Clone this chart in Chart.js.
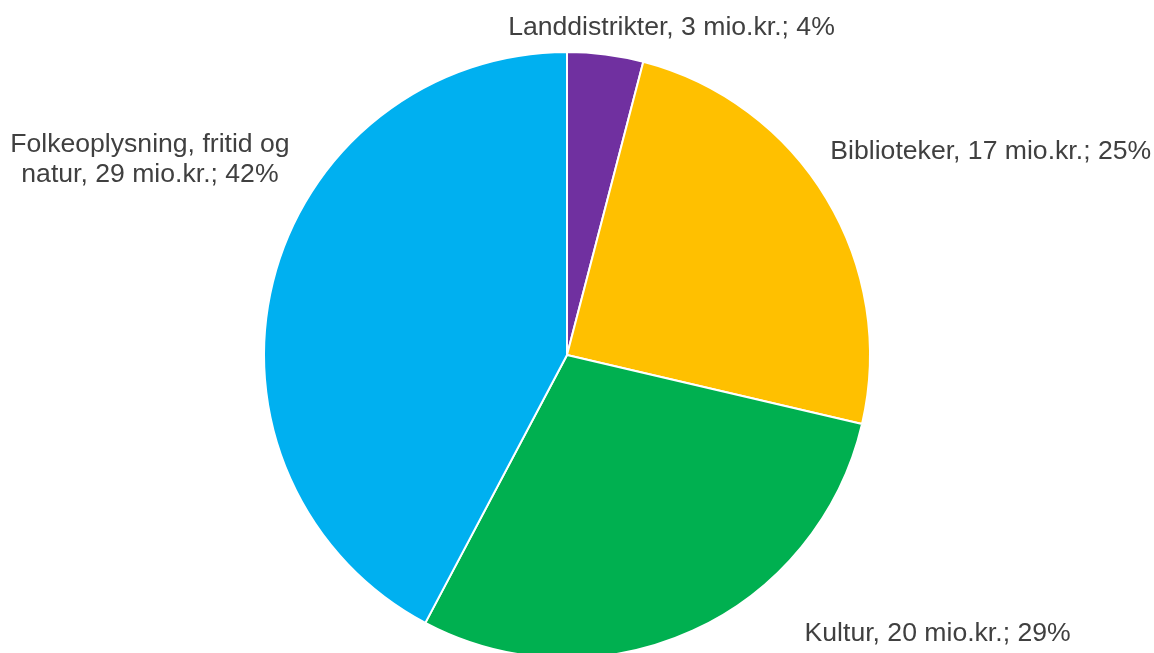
<!DOCTYPE html>
<html lang="da">
<head>
<meta charset="UTF-8">
<title>Fordeling af midler</title>
<script src="https://cdn.jsdelivr.net/npm/chart.js@4.4.1/dist/chart.umd.min.js"></script>
<style>
  html, body { margin: 0; padding: 0; background: #fff; overflow: hidden; }
  #wrap { width: 1154px; height: 653px; position: relative; }
</style>
</head>
<body>
<div id="wrap"><canvas id="chart" width="1154" height="653"></canvas></div>
<script>
// data (slice sizes from the drawn angles)
const categories = ['Landdistrikter', 'Biblioteker', 'Kultur', 'Folkeoplysning, fritid og natur'];
const values = [2.8, 17, 20.1, 29.2];
const amountLabels = ['3 mio.kr.', '17 mio.kr.', '20 mio.kr.', '29 mio.kr.'];
const percentLabels = ['4%', '25%', '29%', '42%'];
const labelLines = [
  ['Landdistrikter, 3 mio.kr.; 4%'],
  ['Biblioteker, 17 mio.kr.; 25%'],
  ['Kultur, 20 mio.kr.; 29%'],
  ['Folkeoplysning, fritid og', 'natur, 29 mio.kr.; 42%'],
];
const colors = ['#7030A0', '#FFC000', '#00B050', '#00B0F0'];

// label placement: nudge from slice's mid-angle point on the rim, and text alignment
const labelPlacement = [
  { dx: 66, dy: -27, align: 'center' },
  { dx: 4, dy: -47, align: 'left' },
  { dx: 112, dy: 3, align: 'left' },
  { dx: -123, dy: -122, align: 'center' },
];

const outsideLabels = {
  id: 'outsideLabels',
  afterDraw(chart) {
    const ctx = chart.ctx;
    const meta = chart.getDatasetMeta(0);
    ctx.save();
    ctx.font = '26.6px "Liberation Sans", Arial, sans-serif';
    ctx.fillStyle = '#404040';
    ctx.textBaseline = 'middle';
    meta.data.forEach((arc, i) => {
      const mid = (arc.startAngle + arc.endAngle) / 2;
      const x = arc.x + Math.cos(mid) * arc.outerRadius;
      const y = arc.y + Math.sin(mid) * arc.outerRadius;
      const p = labelPlacement[i];
      ctx.textAlign = p.align;
      const lines = labelLines[i];
      const lh = 30;
      const top = y + p.dy - (lines.length - 1) * lh / 2;
      lines.forEach((t, k) => ctx.fillText(t, x + p.dx, top + k * lh));
    });
    ctx.restore();
  }
};

new Chart(document.getElementById('chart'), {
  type: 'pie',
  data: {
    labels: categories,
    datasets: [{
      data: values,
      backgroundColor: colors,
      borderColor: '#ffffff',
      borderWidth: 2,
      radius: 303,
    }],
  },
  options: {
    responsive: false,
    animation: false,
    layout: { padding: { top: 57, right: 20, bottom: 0, left: 0 } },
    plugins: {
      legend: { display: false },
      tooltip: { enabled: false },
    },
  },
  plugins: [outsideLabels],
});
</script>
</body>
</html>
